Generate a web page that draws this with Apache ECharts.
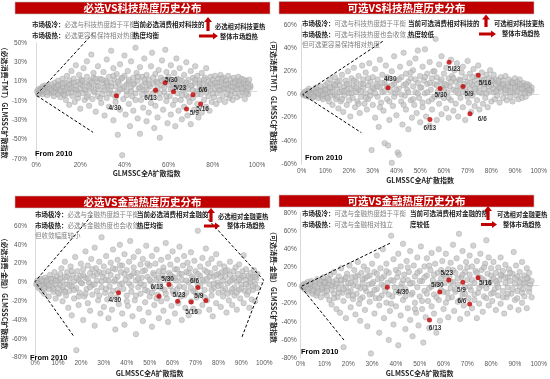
<!DOCTYPE html>
<html><head><meta charset="utf-8">
<script src="https://cdn.jsdelivr.net/npm/echarts@6/dist/echarts.min.js"></script>
<style>html,body{margin:0;padding:0;background:#fff}#c{width:550px;height:379px}</style>
</head><body><div id="c"></div>
<script>
// ---------------- DATA ----------------
const panelTitles = ['必选VS科技热度历史分布', '可选VS科技热度历史分布', '必选VS金融热度历史分布', '可选VS金融热度历史分布'];
const xAxisName = 'GLMSSC全A扩散指数';
const yAxisNames = ['（必选消费-TMT）GLMSSC扩散指数', '（可选消费-TMT）GLMSSC扩散指数', '（必选消费-金融）GLMSSC扩散指数', '（可选消费-金融）GLMSSC扩散指数'];
const yRanges = [[-70, 50], [-60, 60], [-80, 60], [-80, 80]];
const xLabelSteps = [20, 10, 10, 10];
const yLabelStep = 20;
const sinceText = 'From 2010';

const hiDates = ['4/30', '5/9', '5/16', '5/23', '5/30', '6/6', '6/13'];
const hiX = [36.4, 68.1, 74.5, 62.2, 58.4, 71.0, 54.1];
const hiY1 = [-4.5, -18.3, -13.1, -0.4, 8.9, -3.5, 1.0];
const hiY2 = [5.8, 6.9, 16.6, 27.9, 5.2, -16.6, -21.6];
const hiY3 = [-10.9, -20.9, -19.1, -20.1, -2.1, -5.3, -14.8];
const hiY4 = [-2.0, 3.5, 8.6, 6.1, -7.2, -20.4, -38.1];

// dashed guide lines (data coords)
const guide1 = [[25.8, 60], [0, -4], [25.8, -42.4]];
const guide2 = [[34.2, 45.9], [0.4, 0], [25.2, -33]];
const guide3L = [[24.7, 71], [0, 1], [17.1, -58]];
const guide3R = [[74, 71], [99.7, 2.5], [90, -59.7]];
const guide4 = [[37.5, 46.6], [0, -1.3], [18.4, -61]];

const pts1 = [[0.5,0],[1,2],[1.5,-2],[2,3],[2.5,0],[3,-3],[3,5],[3.5,1],[4,-1],[4.5,4],[5,2],[5,-4],[5.5,6],[6,0],[6.5,3],[7,-2],[7,7],[7.5,1],[8,4],[8,-5],[8.5,9],[9,2],[9,-1],[9.5,6],[10,-3],[10,11],
[10.5,3],[11,7],[11,-6],[11.5,0],[12,13],[12,4],[12.5,-3],[13,9],[13,1],[13.5,-9],[14,16],[14,5],[14.5,-2],[15,11],[15,-14],[15.5,3],[16,8],[16,21],[16.5,-5],[17,2],[17,13],[17.5,-11],[18,6],[18,27],[18.5,0],[19,10],[19,-7],[19.5,17],[20,3],[20,-18],[20.5,12],[21,6],[21,-2],[21.5,24],[22,9],[22,-9],[22.5,1],[23,15],[23,31],[23.5,-4],[24,7],[24,-15],[24.5,11],[25,38],[25,3],[25.5,-8],[26,14],[26,19],[26.5,-1],[27,6],[27,-21],[27.5,10],[28,26],[28,-5],[28.5,2],[29,53],[29,13],[29.5,-12],[30,8],[30,-3],
[30.5,20],[31,4],[31,-25],[31.5,11],[32,-7],[32,33],[32.5,6],[33,15],[33,-16],[33.5,1],[34,9],[34,42],[34.5,-3],[35,24],[35,-30],[35.5,12],[36,5],[36,-11],[36.5,18],[37,-1],[37,-45],[37.5,8],[38,28],[38,-19],[38.5,13],[39,3],[39,-66],[39.5,-8],[40,16],[40,37],[40.5,-24],[41,7],[41,0],[41.5,21],[42,-13],[42,10],[42.5,-36],[43,4],[43,31],[43.5,-5],[44,14],[44,-20],[44.5,8],[45,45],[45,-2],[45.5,19],[46,-28],[46,11],[46.5,3],[47,-44],[47,25],[47.5,-9],[48,6],[48,15],[48.5,-17],[49,1],[49,34],[49.5,9],[50,-31],[50,17],[50.5,-4],[51,12],[51,-22],[51.5,5],[52,26],[52,-12],[52.5,40],[53,8],[53,-2],[53.5,-38],[54,18],[54,-15],[54.5,10],[55,3],[55,-27],[55.5,22],[56,-7],[56,-48],[56.5,14],[57,6],[57,32],[57.5,-19],[58,12],[58,-1],[58.5,43],[59,-10],[59,20],[59.5,-33],[60,7],[60,15],
[60.5,-5],[61,27],[61,-24],[61.5,10],[62,3],[62,-14],[62.5,19],[63,-36],[63,8],[63.5,34],[64,-2],[64,13],[64.5,-20],[65,5],[65,24],[65.5,-9],[66,11],[66,-29],[66.5,1],[67,17],[67,-16],[67.5,7],[68,-4],[68,30],[68.5,-25],[69,12],[69,3],[69.5,-11],[70,21],[70,-34],[70.5,6],[71,14],[71,-7],[71.5,-19],[72,9],[72,26],[72.5,0],[73,-13],[73,16],[73.5,-27],[74,5],[74,11],[74.5,-3],[75,19],[75,-22],[75.5,8],[76,-9],[76,2],[76.5,14],[77,-16],[77,24],[77.5,6],[78,-5],[78,10],[78.5,-20],[79,15],[79,1],[79.5,-11],[80,7],[80,12],
[80.5,-6],[81,16],[81,3],[81.5,-13],[82,9],[82,-2],[82.5,13],[83,5],[83,-9],[83.5,17],[84,1],[84,10],[84.5,-5],[85,7],[85,14],[85.5,-11],[86,3],[86,11],[86.5,-3],[87,8],[87,16],[87.5,-7],[88,5],[88,12],[88.5,0],[89,9],[89,-9],[89.5,14],[90,4],[90,-2],[90.5,11],[91,7],[91,-6],[91.5,15],[92,2],[92,10],[92.5,-4],[93,6],[93,13],[93.5,-1],[94,9],[94,3],[94.5,-8],[95,11],[95,5],[95.5,0],[96,8],[96,-3],[96.5,12],[97,4],[97,6]];
const core1 = [[1,-3],[2,1],[3,2],[4,6],[5,-1],[6,3],[7,1],[8,-1],[9,4],[10,6],[11,1],[12,8],[13,-4],[14,3],[15,7],[16,-1],[17,9],[18,2],[19,-3],[20,8],[21,11],[22,2],[23,-6],[24,5],[25,9],[26,0],[27,13],[28,5],[29,-7],[30,12],[31,1],[32,9],[33,-2],[34,5],[35,16],[36,-6],[37,10],[38,2],[39,14],[40,5],[41,-4],[42,12],[43,0],[44,7],[45,-9],[46,15],[47,4],[48,-3],[49,12],[50,2],[51,7],[52,-6],[53,14],[54,1],[55,9],[56,-2],[57,11],[58,4],[59,-5],[60,11],[61,2],[62,8],[63,-9],[64,6],[65,12],[66,-4],[67,3],[68,9],[69,-6],[70,6],[71,1],[72,12],[73,-3],[74,8],[75,2],[76,12],[77,-1],[78,4],[79,8],[80,-2],[81,9],[82,5],[83,1],[84,13],[85,3],[86,7],[87,2],[88,-4],[89,5],[90,9],[91,2],[92,7],[93,3],[94,12],[95,-2],[96,4]];

const pts2 = [[0.5,0],[1,2],[1.5,-1],[2,3],[2.5,1],[3,-2],[3,5],[3.5,0],[4,2],[4.5,-3],[5,4],[5,1],[5.5,-1],[6,6],[6.5,2],[7,-3],[7,4],[7.5,0],[8,7],[8.5,-2],[9,3],[9,-4],[9.5,5],[10,1],[10,8],
[10.5,-2],[11,4],[11,10],[11.5,-6],[12,2],[12,13],[12.5,-1],[13,6],[13,-9],[13.5,9],[14,0],[14,15],[14.5,-4],[15,5],[15,11],[15.5,-12],[16,2],[16,8],[16.5,-6],[17,17],[17,3],[17.5,-15],[18,7],[18,-1],[18.5,12],[19,4],[19,-9],[19.5,20],[20,1],[20,9],[20.5,-19],[21,5],[21,14],[21.5,-3],[22,23],[22,7],[22.5,-11],[23,2],[23,11],[23.5,-6],[24,16],[24,4],[24.5,-16],[25,9],[25,-2],[25.5,25],[26,6],[26,13],[26.5,-8],[27,1],[27,19],[27.5,-13],[28,8],[28,-4],[28.5,27],[29,11],[29,3],[29.5,-48],[30,-9],[30,15],
[30.5,5],[31,-20],[31,22],[31.5,9],[32,-2],[32,13],[32.5,-28],[33,6],[33,30],[33.5,-7],[34,17],[34,2],[34.5,-14],[35,10],[35,-42],[35.5,25],[36,-4],[36,7],[36.5,-44],[37,14],[37,-22],[37.5,3],[38,20],[38,-59],[38.5,-10],[39,9],[39,33],[39.5,1],[40,-18],[40,12],[40.5,-50],[41,-52],[41,5],[41.5,24],[42,-6],[42,15],[42.5,-26],[43,8],[43,36],[43.5,-1],[44,18],[44,-13],[44.5,4],[45,11],[45,-30],[45.5,27],[46,-5],[46,14],[46.5,-20],[47,7],[47,21],[47.5,-9],[48,2],[48,31],[48.5,-16],[49,38],[49,10],[49.5,-3],[50,16],[50,-24],[50.5,6],[51,24],[51,-11],[51.5,12],[52,39],[52,1],[52.5,-19],[53,9],[53,18],[53.5,-6],[54,28],[54,-27],[54.5,4],[55,14],[55,-13],[55.5,20],[56,-2],[56,9],[56.5,48],[57,-22],[57,15],[57.5,3],[58,26],[58,-8],[58.5,11],[59,-17],[59,33],[59.5,6],[60,-3],[60,18],
[60.5,9],[61,-12],[61,23],[61.5,2],[62,14],[62,-20],[62.5,7],[63,30],[63,-5],[63.5,16],[64,-14],[64,4],[64.5,21],[65,-8],[65,11],[65.5,27],[66,1],[66,-19],[66.5,13],[67,6],[67,-3],[67.5,19],[68,-11],[68,24],[68.5,9],[69,-22],[69,15],[69.5,2],[70,11],[70,29],[70.5,-7],[71,5],[71,18],[71.5,-15],[72,8],[72,-1],[72.5,22],[73,12],[73,-10],[73.5,3],[74,16],[74,-5],[74.5,25],[75,7],[75,-13],[75.5,11],[76,1],[76,19],[76.5,-8],[77,13],[77,5],[77.5,-3],[78,17],[78,9],[78.5,-11],[79,3],[79,14],[79.5,21],[80,-6],[80,8],
[80.5,12],[81,2],[81,17],[81.5,-4],[82,8],[82,13],[82.5,-1],[83,5],[83,10],[83.5,-7],[84,15],[84,3],[84.5,8],[85,-3],[85,12],[85.5,6],[86,1],[86,16],[86.5,-5],[87,9],[87,4],[87.5,13],[88,-2],[88,7],[88.5,11],[89,2],[89,-6],[89.5,9],[90,14],[90,4],[90.5,-1],[91,8],[91,11],[91.5,-4],[92,5],[92,13],[92.5,1],[93,8],[93,-3],[93.5,10],[94,4],[94,7],[94.5,-2],[95,9],[95,3],[95.5,6],[96,1],[96,8],[96.5,4],[97,3],[97,6]];
const core2 = [[1,0],[2,-1],[3,3],[4,0],[5,-2],[6,2],[7,1],[8,3],[9,0],[10,4],[11,-3],[12,6],[13,2],[14,8],[15,-2],[16,12],[17,-4],[18,3],[19,9],[20,-5],[21,1],[22,12],[23,6],[24,-8],[25,3],[26,9],[27,-3],[28,14],[29,-1],[30,6],[31,1],[32,7],[33,-11],[34,10],[35,3],[36,15],[37,-6],[38,8],[39,-2],[40,4],[41,13],[42,0],[43,-9],[44,9],[45,2],[46,19],[47,-4],[48,13],[49,1],[50,6],[51,-7],[52,15],[53,2],[54,10],[55,-4],[56,20],[57,8],[58,-1],[59,13],[60,4],[61,8],[62,-3],[63,11],[64,14],[65,3],[66,7],[67,12],[68,2],[69,6],[70,-2],[71,10],[72,15],[73,5],[74,9],[75,2],[76,13],[77,9],[78,1],[79,7],[80,12],[81,5],[82,3],[83,12],[84,6],[85,9],[86,4],[87,7],[88,2],[89,10],[90,6],[91,3],[92,9],[93,5],[94,1],[95,7],[96,4]];

const pts3 = [[0.5,-2],[1,2],[1.5,-6],[2,0],[2.5,4],[3,-9],[3,-3],[3.5,1],[4,-12],[4.5,5],[5,-5],[5,-1],[5.5,3],[6,-15],[6,-7],[6.5,8],[7,0],[7.5,-4],[8,4],[8,-10],[8.5,11],[9,-2],[9,-17],[9.5,6],[10,-6],[10,2],
[10.5,-12],[11,9],[11,-3],[11.5,15],[12,-20],[12,1],[12.5,-8],[13,6],[13,22],[13.5,-14],[14,-2],[14,11],[14.5,-27],[15,4],[15,-9],[15.5,17],[16,-4],[16,-35],[16.5,8],[17,1],[17,-17],[17.5,27],[18,-72],[18,-6],[18.5,12],[19,3],[19,-24],[19.5,-11],[20,20],[20,7],[20.5,-1],[21,-40],[21,14],[21.5,-15],[22,33],[22,5],[22.5,-7],[23,18],[23,-22],[23.5,0],[24,10],[24,-30],[24.5,25],[25,-3],[25,-13],[25.5,7],[26,37],[26,-46],[26.5,15],[27,-9],[27,2],[27.5,-19],[28,22],[28,11],[28.5,-33],[29,48],[29,-5],[29.5,6],[30,-26],[30,17],
[30.5,-11],[31,28],[31,3],[31.5,-18],[32,12],[32,-38],[32.5,-4],[33,21],[33,8],[33.5,-29],[34,-9],[34,35],[34.5,1],[35,-50],[35,14],[35.5,-16],[36,24],[36,6],[36.5,-23],[37,-2],[37,40],[37.5,11],[38,-33],[38,18],[38.5,-7],[39,30],[39,-45],[39.5,3],[40,-14],[40,13],[40.5,-25],[41,22],[41,-1],[41.5,44],[42,-10],[42,7],[42.5,-36],[43,16],[43,27],[43.5,-19],[44,2],[44,-55],[44.5,10],[45,-5],[45,33],[45.5,-28],[46,19],[46,-12],[46.5,5],[47,-41],[47,25],[47.5,-3],[48,13],[48,-21],[48.5,39],[49,-9],[49,6],[49.5,-32],[50,18],[50,-15],[50.5,1],[51,28],[51,-47],[51.5,10],[52,-6],[52,-24],[52.5,20],[53,3],[53,35],[53.5,-13],[54,-38],[54,12],[54.5,-2],[55,24],[55,-20],[55.5,7],[56,-30],[56,16],[56.5,-8],[57,42],[57,4],[57.5,-17],[58,27],[58,-42],[58.5,10],[59,-4],[59,19],[59.5,-25],[60,6],[60,33],
[60.5,-12],[61,14],[61,-33],[61.5,2],[62,24],[62,-7],[62.5,-22],[63,9],[63,38],[63.5,-15],[64,3],[64,-40],[64.5,18],[65,-5],[65,28],[65.5,-27],[66,11],[66,-11],[66.5,21],[67,-35],[67,0],[67.5,15],[68,-20],[68,32],[68.5,6],[69,-9],[69,-28],[69.5,23],[70,2],[70,12],[70.5,-16],[71,55],[71,-3],[71.5,-31],[72,17],[72,7],[72.5,-13],[73,26],[73,-24],[73.5,1],[74,13],[74,-8],[74.5,36],[75,-19],[75,4],[75.5,20],[76,-29],[76,-2],[76.5,10],[77,-14],[77,25],[77.5,-36],[78,6],[78,-6],[78.5,15],[79,-22],[79,30],[79.5,0],[80,-11],[80,9],
[80.5,20],[81,-3],[81,-26],[81.5,11],[82,2],[82,-15],[82.5,17],[83,-7],[83,6],[83.5,-32],[84,13],[84,-1],[84.5,-19],[85,8],[85,22],[85.5,-10],[86,3],[86,-24],[86.5,12],[87,-5],[87,-14],[87.5,16],[88,1],[88,-29],[88.5,9],[89,-8],[89,19],[89.5,-17],[90,5],[90,-2],[90.5,12],[91,-22],[91,29],[91.5,-9],[92,3],[92,14],[92.5,-13],[93,7],[93,-4],[93.5,-27],[94,10],[94,1],[94.5,-18],[95,6],[95,-8],[95.5,13],[96,-2],[96,-20],[96.5,4],[97,-6],[97,9]];
const core3 = [[1,-1],[2,-4],[3,2],[4,-6],[5,1],[6,-3],[7,4],[8,-7],[9,2],[10,-11],[11,4],[12,-5],[13,-10],[14,6],[15,-3],[16,12],[17,-8],[18,5],[19,-15],[20,0],[21,8],[22,-12],[23,4],[24,-5],[25,14],[26,-2],[27,9],[28,-14],[29,1],[30,10],[31,-7],[32,2],[33,-13],[34,15],[35,3],[36,-8],[37,18],[38,-1],[39,9],[40,-20],[41,6],[42,-4],[43,10],[44,-14],[45,4],[46,-1],[47,12],[48,-8],[49,20],[50,3],[51,-11],[52,8],[53,-17],[54,5],[55,-6],[56,12],[57,-12],[58,2],[59,8],[60,-9],[61,5],[62,14],[63,-4],[64,9],[65,-14],[66,2],[67,10],[68,-6],[69,4],[70,-11],[71,9],[72,-4],[73,3],[74,-16],[75,11],[76,6],[77,-8],[78,-1],[79,8],[80,-4],[81,6],[82,-9],[83,12],[84,-12],[85,1],[86,-7],[87,5],[88,-11],[89,3],[90,-6],[91,7],[92,-2],[93,-10],[94,4],[95,-4],[96,6]];

const pts4 = [[0.5,-1],[1,1],[1.5,-4],[2,2],[2.5,-2],[3,4],[3,-7],[3.5,0],[4,-3],[4.5,5],[5,-9],[5,1],[5.5,-5],[6,3],[6.5,-11],[7,7],[7,-2],[7.5,-6],[8,2],[8.5,-13],[9,5],[9,-4],[9.5,9],[10,-8],[10,0],
[10.5,4],[11,-11],[11,-2],[11.5,8],[12,-16],[12,1],[12.5,12],[13,-5],[13,-21],[13.5,4],[14,-9],[14,15],[14.5,-1],[15,-26],[15,6],[15.5,-13],[16,10],[16,-4],[16.5,-30],[17,2],[17,19],[17.5,-8],[18,-68],[18,-17],[18.5,7],[19,-2],[19,-36],[19.5,13],[20,-11],[20,3],[20.5,22],[21,-6],[21,-24],[21.5,9],[22,-15],[22,0],[22.5,17],[23,-32],[23,5],[23.5,-9],[24,26],[24,11],[24.5,-20],[25,-3],[25,-39],[25.5,14],[26,3],[26,-13],[26.5,21],[27,-27],[27,8],[27.5,-6],[28,-45],[28,17],[28.5,1],[29,-18],[29,11],[29.5,-75],[30,-9],[30,24],
[30.5,4],[31,-31],[31,15],[31.5,-14],[32,33],[32,-4],[32.5,7],[33,-52],[33,-22],[33.5,19],[34,1],[34,-11],[34.5,40],[35,10],[35,-36],[35.5,-6],[36,24],[36,-19],[36.5,3],[37,-60],[37,14],[37.5,-28],[38,55],[38,6],[38.5,-12],[39,29],[39,-43],[39.5,-2],[40,17],[40,-23],[40.5,9],[41,-66],[41,35],[41.5,-8],[42,21],[42,-33],[42.5,2],[43,-16],[43,46],[43.5,12],[44,-48],[44,-4],[44.5,27],[45,6],[45,-25],[45.5,15],[46,-38],[46,38],[46.5,-10],[47,3],[47,-56],[47.5,22],[48,-19],[48,10],[48.5,-30],[49,31],[49,-2],[49.5,-44],[50,16],[50,-12],[50.5,43],[51,5],[51,-26],[51.5,-63],[52,21],[52,-6],[52.5,-35],[53,11],[53,30],[53.5,-17],[54,-3],[54,-47],[54.5,17],[55,36],[55,-23],[55.5,6],[56,-10],[56,-31],[56.5,24],[57,1],[57,-52],[57.5,14],[58,-16],[58,40],[58.5,-39],[59,8],[59,-5],[59.5,27],[60,-26],[60,12],
[60.5,3],[61,35],[61,-19],[61.5,-8],[62,18],[62,-35],[62.5,10],[63,-3],[63,25],[63.5,-13],[64,45],[64,4],[64.5,-28],[65,14],[65,-7],[65.5,30],[66,-18],[66,1],[66.5,57],[67,20],[67,-37],[67.5,9],[68,-10],[68,38],[68.5,-22],[69,15],[69,-2],[69.5,26],[70,-31],[70,6],[70.5,-14],[71,33],[71,12],[71.5,-5],[72,-25],[72,21],[72.5,44],[73,3],[73,-16],[73.5,16],[74,-36],[74,27],[74.5,-8],[75,9],[75,-20],[75.5,35],[76,0],[76,17],[76.5,-29],[77,6],[77,-12],[77.5,24],[78,50],[78,-3],[78.5,13],[79,-22],[79,31],[79.5,4],[80,-9],[80,19],
[80.5,-17],[81,8],[81,26],[81.5,-4],[82,14],[82,-27],[82.5,2],[83,20],[83,-11],[83.5,6],[84,-20],[84,31],[84.5,11],[85,-6],[85,16],[85.5,-31],[86,3],[86,23],[86.5,-13],[87,9],[87,-2],[87.5,18],[88,-24],[88,5],[88.5,-9],[89,13],[89.5,37],[90,-16],[90,2],[90.5,22],[91,-6],[91,10],[91.5,-27],[92,15],[92,-1],[92.5,7],[93,-19],[93,26],[93.5,-4],[94,11],[94,-12],[94.5,3],[95,19],[95,-25],[95.5,8],[96,-7],[96,14],[96.5,1],[97,-13],[97,5]];
const core4 = [[1,-2],[2,0],[3,-4],[4,2],[5,-6],[6,0],[7,-8],[8,5],[9,-2],[10,3],[11,-6],[12,6],[13,0],[14,-14],[15,2],[16,-8],[17,6],[18,-4],[19,9],[20,-7],[21,3],[22,-11],[23,10],[24,-1],[25,-15],[26,7],[27,-3],[28,10],[29,-10],[30,2],[31,-5],[32,13],[33,-14],[34,8],[35,-1],[36,16],[37,-10],[38,-20],[39,5],[40,-7],[41,14],[42,-2],[43,6],[44,-12],[45,20],[46,2],[47,-8],[48,-26],[49,14],[50,5],[51,-17],[52,9],[53,-9],[54,22],[55,-1],[56,12],[57,-13],[58,3],[59,17],[60,-7],[61,10],[62,-14],[63,4],[64,17],[65,-4],[66,8],[67,-16],[68,12],[69,-9],[70,20],[71,-1],[72,6],[73,-10],[74,14],[75,-3],[76,8],[77,20],[78,-14],[79,2],[80,11],[81,-8],[82,5],[83,-2],[84,12],[85,-13],[86,9],[87,-9],[88,14],[89,-4],[90,8],[91,-14],[92,4],[93,-8],[94,2],[95,8],[96,-3]];

// annotation texts
const notes = [
  {cold:'必选与科技热度趋于平衡', hot:['必选更容易保持相对热度'], cur:['当前必选消费相对科技的','热度均衡'], up:'必选相对科技更热'},
  {cold:'可选与科技热度趋于平衡', hot:['可选与科技热度也会收敛，','但可选更容易保持相对热度'], cur:['当前可选消费相对科技的','热度较低'], up:'可选相对科技更热'},
  {cold:'必选与金融热度趋于平衡', hot:['必选与金融热度也会收敛，','但收敛幅度较小'], cur:['当前必选消费相对金融的','热度均衡'], up:'必选相对金融更热'},
  {cold:'可选与金融热度趋于平衡', hot:['可选与金融相对独立'], cur:['当前可选消费相对金融的热','度较低'], up:'可选相对金融更热'}
];
const coldLabel = '市场极冷：', hotLabel = '市场极热：', marketHot = '整体市场趋热';

// ---------------- LAYOUT / STYLE ----------------
const FONT = "'Liberation Sans','Noto Sans CJK SC',sans-serif";
const CJK = "'Noto Sans CJK SC','Liberation Sans',sans-serif";
const RED = '#c00000';
const L = [
  {grid:{left:32,right:293,top:43,bottom:220}, yLm:9, xLm:3, yGap:21, xGap:10,
   bar:[15,2,255,12], noteX:32, noteY:25, curX:133, upArrow:[208,17,31], rArrow:[199,218,36], upTxt:[215,27], hotTxt:[220,36.5], from:[35,154],
   lab:[[-1.7,12.3],[7.7,4],[2,5],[6.3,-3.7],[6.3,-2.7],[10,-4.3],[-5,7.7]]},
  {grid:{left:301.7,right:10,top:25,bottom:215}, yLm:5, xLm:4, yGap:18, xGap:12.5,
   bar:[279,1.5,255,12.5], noteX:302, noteY:24, curX:408, upArrow:[486,14.5,27], rArrow:[479,496,34], upTxt:[494,24], hotTxt:[502,34], from:[305,158],
   lab:[[2.3,-8.3],[6,8],[6.7,7.7],[5,6.7],[0.7,7],[12.3,5.7],[0,8.3]]},
  {grid:{left:31.7,right:285.7,top:226,bottom:21.3}, yLm:8, xLm:2, yGap:21, xGap:12,
   bar:[15,196,255,12], noteX:35, noteY:215, curX:137, upArrow:[211,208,222], rArrow:[204,220,226], upTxt:[218,217], hotTxt:[227,225.5], from:[30,357.5],
   lab:[[-3.7,7.7],[7.7,-6.3],[-14.3,11.7],[1.3,-5.7],[-1.3,-5.7],[-3.3,-6.3],[-2.3,-8.7]]},
  {grid:{left:300.7,right:10,top:213,bottom:21}, yLm:4, xLm:2.5, yGap:17.5, xGap:12,
   bar:[279,195,255,12], noteX:302, noteY:214, curX:410, upArrow:[488,206,220], rArrow:[481,497,224.5], upTxt:[497,215], hotTxt:[503,224.5], from:[301,352],
   lab:[[15.3,5.3],[-1.3,7.7],[7.3,5],[-2,-6.7],[-2.3,-7],[-7.7,-3],[5.7,8.3]]}
];

const allPts = [pts1.concat(core1), pts2.concat(core2), pts3.concat(core3), pts4.concat(core4)];
const allHiY = [hiY1, hiY2, hiY3, hiY4];
const allGuides = [[guide1], [guide2], [guide3L, guide3R], [guide4]];

const grids = [], xAxes = [], yAxes = [], series = [], graphics = [];

function upArrow(cx, top, bottom) {
  const hw = 4, sw = 1.6, hh = 5;
  return {type:'polygon', shape:{points:[[cx-sw,bottom],[cx-sw,top+hh],[cx-hw,top+hh],[cx,top],[cx+hw,top+hh],[cx+sw,top+hh],[cx+sw,bottom]]}, style:{fill:RED}};
}
function rightArrow(x0, x1, cy) {
  const hh = 3.5, sw = 1.5, hl = 5;
  return {type:'polygon', shape:{points:[[x0,cy-sw],[x1-hl,cy-sw],[x1-hl,cy-hh],[x1,cy],[x1-hl,cy+hh],[x1-hl,cy+sw],[x0,cy+sw]]}, style:{fill:RED}};
}
function txt(x, y, text, size, color, weight, extra) {
  return Object.assign({type:'text', x:x, y:y, style:{text:text, fontSize:size, fontFamily:CJK, fill:color, fontWeight:weight||'normal', verticalAlign:'middle', align:'left'}}, extra||{});
}

for (let i = 0; i < 4; i++) {
  const lay = L[i];
  grids.push(Object.assign({containLabel:false}, lay.grid));
  xAxes.push({
    type:'value', gridIndex:i, min:0, max:100, interval:10,
    name:xAxisName, nameLocation:'middle', nameGap:lay.xGap,
    nameTextStyle:{fontSize:7, fontWeight:'bold', color:'#262626', fontFamily:CJK},
    axisLine:{show:false}, axisTick:{show:false}, splitLine:{show:false},
    axisLabel:{fontSize:6.5, color:'#595959', margin:lay.xLm, fontFamily:FONT,
      formatter:(v)=> (v % xLabelSteps[i] === 0 ? v + '%' : '')}
  });
  const yr = yRanges[i];
  yAxes.push({
    type:'value', gridIndex:i, min:yr[0], max:yr[1], interval:10,
    name:yAxisNames[i], nameLocation:'middle', nameGap:lay.yGap, nameRotate:-90,
    nameTextStyle:{fontSize:7, fontWeight:'bold', color:'#262626', fontFamily:CJK},
    axisLine:{show:true, lineStyle:{color:'#d9d9d9', width:1}}, axisTick:{show:false}, splitLine:{show:false},
    axisLabel:{fontSize:6.5, color:'#595959', margin:lay.yLm, fontFamily:FONT,
      formatter:(v)=> ((v - yr[0]) % yLabelStep === 0 ? v + '%' : '')}
  });
  series.push({
    type:'scatter', xAxisIndex:i, yAxisIndex:i, data:allPts[i], symbolSize:5.5, z:2,
    itemStyle:{color:'rgba(190,190,190,0.85)', borderColor:'rgba(150,150,150,0.7)', borderWidth:0.6},
    silent:true,
    markLine:{silent:true, symbol:'none', label:{show:false}, lineStyle:{color:'#d9d9d9', type:'solid', width:1}, data:[{yAxis:0}], z:1}
  });
  allGuides[i].forEach(g => series.push({
    type:'line', xAxisIndex:i, yAxisIndex:i, data:g, clip:false, symbol:'none', silent:true, z:4,
    lineStyle:{color:'#000', width:1, type:[3,2]}
  }));
  series.push({
    type:'scatter', xAxisIndex:i, yAxisIndex:i, symbolSize:5, z:5,
    itemStyle:{color:RED},
    data:hiDates.map((d, k) => ({value:[hiX[k], allHiY[i][k]], name:d,
      label:{show:true, position:'inside', offset:lay.lab[k], formatter:d, fontSize:6.5, fontWeight:'bold', color:'#000', fontFamily:FONT}}))
  });

  // title bar
  const b = lay.bar;
  graphics.push({type:'rect', shape:{x:b[0], y:b[1], width:b[2], height:b[3]}, style:{fill:RED, stroke:'#bfbfbf', lineWidth:0.6}, z:10});
  graphics.push({type:'text', x:b[0] + b[2]/2, y:b[1] + b[3]/2, z:11, style:{text:panelTitles[i], fontSize:10.5, fontWeight:'bold', fill:'#fff', fontFamily:CJK, align:'center', verticalAlign:'middle'}});

  // notes
  const n = notes[i];
  const rich = {b:{fontSize:6.5, fontWeight:'bold', fill:'#1a1a1a', fontFamily:CJK}, g:{fontSize:6.5, fill:'#808080', fontFamily:CJK}};
  graphics.push({type:'text', x:lay.noteX, y:lay.noteY, z:11, style:{text:'{b|' + coldLabel + '}{g|' + n.cold + '}', rich:rich, verticalAlign:'middle'}});
  graphics.push({type:'text', x:lay.noteX, y:lay.noteY + 10.5, z:11, style:{text:'{b|' + hotLabel + '}{g|' + n.hot[0] + '}', rich:rich, verticalAlign:'middle'}});
  if (n.hot[1]) graphics.push(txt(lay.noteX, lay.noteY + 21, n.hot[1], 6.5, '#808080', 'normal', {z:11}));
  graphics.push(txt(lay.curX, lay.noteY, n.cur[0], 6.5, '#1a1a1a', 'bold', {z:11}));
  graphics.push(txt(lay.curX, lay.noteY + 10.5, n.cur[1], 6.5, '#1a1a1a', 'bold', {z:11}));
  graphics.push(Object.assign(upArrow(lay.upArrow[0], lay.upArrow[1], lay.upArrow[2]), {z:11}));
  graphics.push(Object.assign(rightArrow(lay.rArrow[0], lay.rArrow[1], lay.rArrow[2]), {z:11}));
  graphics.push(txt(lay.upTxt[0], lay.upTxt[1], n.up, 6.3, '#1a1a1a', 'bold', {z:11}));
  graphics.push(txt(lay.hotTxt[0], lay.hotTxt[1], marketHot, 6.3, '#1a1a1a', 'bold', {z:11}));
  graphics.push({type:'text', x:lay.from[0], y:lay.from[1], z:11, style:{text:sinceText, fontSize:7.5, fontWeight:'bold', fill:'#000', fontFamily:FONT, verticalAlign:'middle'}});
}

const chart = echarts.init(document.getElementById('c'), null, {renderer:'canvas'});
chart.setOption({
  animation:false, backgroundColor:'#fff',
  grid:grids, xAxis:xAxes, yAxis:yAxes, series:series, graphic:graphics
});
</script></body></html>
